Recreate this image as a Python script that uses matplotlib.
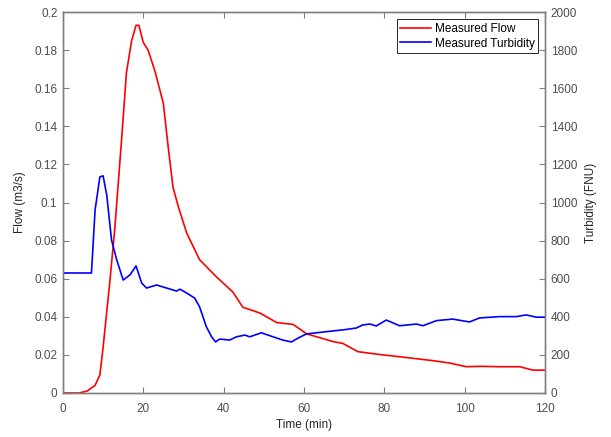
import matplotlib
matplotlib.use('Agg')
import matplotlib.pyplot as plt

# Measured flow (m3/s) vs time (min)
flow_time = [0, 4, 6, 8, 9.2, 10, 11.7, 12.9, 13.8, 14.6, 15.8, 17.1, 18.2, 18.9, 20, 21.2,
             22.9, 25, 26.1, 27.4, 28.7, 30.8, 34, 38.2, 42.3, 44.8, 49, 53.2, 57.3,
             60.7, 64, 67.2, 69.7, 73.4, 79.6, 84, 88, 92, 96.3, 100.4, 104, 108.7, 113.7,
             117, 120]
flow = [0, 0, 0.001, 0.004, 0.0095, 0.024, 0.059, 0.086, 0.111, 0.133, 0.168, 0.185, 0.193,
        0.193, 0.184, 0.180, 0.169, 0.152, 0.131, 0.108, 0.098, 0.084, 0.070, 0.061,
        0.053, 0.045, 0.042, 0.037, 0.036, 0.031, 0.029, 0.027, 0.026, 0.0217, 0.020, 0.019,
        0.018, 0.017, 0.0157, 0.0138, 0.014, 0.0138, 0.0138, 0.012, 0.012]

# Measured turbidity (FNU) vs time (min)
turb_time = [0, 7.1, 8, 9.2, 10, 10.9, 12.1, 13.4, 15, 16.7, 18.2, 19.6, 20.8, 23.3, 25.8,
             28.3, 29.1, 30.8, 32.8, 34, 35.7, 37, 38, 39, 41.5, 43.2, 45.3, 46.5, 49.4,
             52.3, 54.7, 56.9, 58.5, 60.6, 65.6, 70, 73, 74.6, 76.4, 78, 80.5, 83.8, 88,
             89.6, 93, 97, 101.2, 103.7, 108.7, 112.9, 115.3, 117.8, 120]
turbidity = [630, 630, 960, 1135, 1140, 1040, 803, 698, 593, 620, 667, 577, 551, 567, 551,
             535, 545, 525, 498, 453, 348, 295, 268, 283, 278, 295, 304, 295, 316, 295, 278,
             268, 288, 310, 322, 332, 341, 357, 362, 352, 383, 353, 362, 353, 380, 388, 373,
             394, 401, 401, 410, 398, 398]

plt.rcParams['font.family'] = ['Liberation Sans', 'DejaVu Sans']
plt.rcParams['font.size'] = 8.5

fig = plt.figure(figsize=(6.11, 4.37), dpi=100)
ax = fig.add_axes([0.103, 0.1007, 0.789, 0.8718])
ax2 = ax.twinx()

edge = '#808080'
text_col = '#4d4d4d'
l1, = ax.plot(flow_time, flow, color='#ff0000', lw=1.2, label='Measured Flow')
l2, = ax2.plot(turb_time, turbidity, color='#0000ff', lw=1.2, label='Measured Turbidity')

ax.set_xlim(0, 120)
ax.set_ylim(0, 0.2)
ax2.set_ylim(0, 2000)
ax.set_xticks(range(0, 121, 20))
ax.set_yticks([i * 0.02 for i in range(11)])
ax.set_yticklabels(['0'] + ['%g' % (i * 0.02) for i in range(1, 11)])
ax2.set_yticks(range(0, 2001, 200))

ax.set_xlabel('Time (min)', labelpad=3, color='#262626')
ax.set_ylabel('Flow (m3/s)', labelpad=6, color='#262626')
ax2.set_ylabel('Turbidity (FNU)', labelpad=6, color='#262626')

for a in (ax, ax2):
    for s in a.spines.values():
        s.set_color(edge)
        s.set_linewidth(1.0)
    a.tick_params(direction='in', length=4, width=0.8, color=edge, labelcolor=text_col, pad=4)
ax.tick_params(axis='x', top=True, pad=7)
ax.tick_params(axis='y', right=False)

leg = ax.legend(handles=[l1, l2], loc='upper right', fancybox=False, framealpha=1,
                edgecolor='#262626', borderpad=0.3, handlelength=2.6, handletextpad=0.3,
                borderaxespad=0.6, fontsize=8.5, labelspacing=0.25)
leg.get_frame().set_linewidth(0.7)

fig.savefig('out.png', dpi=100)
